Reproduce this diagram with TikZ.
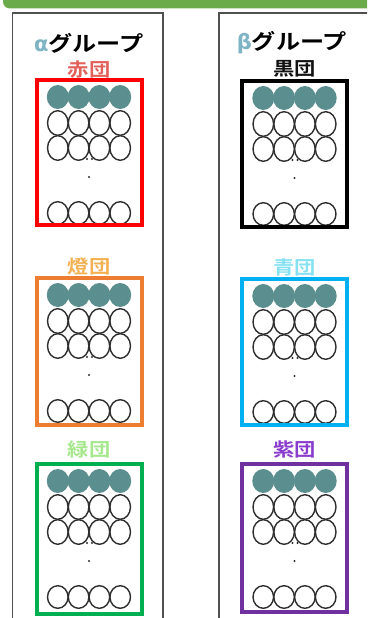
\documentclass[tikz,border=0pt]{standalone}
\usepackage{fontspec}
\newfontfamily\jpb{Noto Sans CJK JP Bold}[FakeStretch=1.15]
\newfontfamily\grb{DejaVu Sans}
\definecolor{barg}{HTML}{6CAB4A}
\definecolor{frameg}{HTML}{505050}
\definecolor{teal}{HTML}{5B8E8E}
\definecolor{ringc}{HTML}{2E2E2E}
\definecolor{greekc}{HTML}{7EB4C4}
\definecolor{cRed}{HTML}{FF0000}
\definecolor{cOrange}{HTML}{ED7D31}
\definecolor{cGreen}{HTML}{00B050}
\definecolor{cBlack}{HTML}{000000}
\definecolor{cCyan}{HTML}{00B0F0}
\definecolor{cPurple}{HTML}{7030A0}
\definecolor{lRed}{HTML}{E2605A}
\definecolor{lOrange}{HTML}{F4B050}
\definecolor{lGreen}{HTML}{A6E88C}
\definecolor{lBlack}{HTML}{111111}
\definecolor{lCyan}{HTML}{86E2F2}
\definecolor{lPurple}{HTML}{8A3CCC}
\tikzset{
  outerframe/.style={draw=frameg,line width=1.5pt},
  teambox/.style={draw=#1,line width=4pt,minimum width=105pt,inner sep=0pt},
  teamlabel/.style={text=#1,font=\jpb\fontsize{18.5}{18.5}\selectfont,inner sep=0pt},
  titlelabel/.style={font=\jpb\fontsize{21}{21}\selectfont,inner sep=0pt},
  ring/.style={draw=ringc,line width=1.4pt},
  filledc/.style={fill=teal},
  dotc/.style={fill=ringc}
}
% #1 name, #2 center x, #3 top y, #4 bottom y, #5 box colour, #6 label colour, #7 label, #8 label offset
\newcommand\teamblk[8]{%
  \node[teamlabel=#6] (#1-label) at (#2,#3-#8) {#7};
  \foreach \i in {-1.5,-0.5,0.5,1.5}{
    \fill[filledc] (#2+\i*20.8,#3+17) ellipse [x radius=11,y radius=12];
  }
  \foreach \i in {-1.5,-0.5,0.5,1.5}{
    \draw[ring] (#2+\i*20.8,#3+43) ellipse [x radius=10.3,y radius=12.3];
    \draw[ring] (#2+\i*20.8,#3+68) ellipse [x radius=10.3,y radius=12.3];
    \draw[ring] (#2+\i*20.8,#3+133) ellipse [x radius=10.3,y radius=11.3];
  }
  \fill[dotc] (#2-2,#3+79) circle [radius=1.1];
  \fill[dotc] (#2+3,#3+79) circle [radius=1.1];
  \fill[dotc] (#2,#3+97) circle [radius=1.1];
  \node[teambox=#5,minimum height={(#4-#3)*1pt}] (#1) at (#2,{(#3+#4)/2}) {};
}
\begin{document}
\begin{tikzpicture}[x=1pt,y=-1pt]
\useasboundingbox (0,0) rectangle (367,618);
\clip (0,0) rectangle (367,618);
\fill[white] (0,0) rectangle (367,618);
% top bar
\fill[barg,rounded corners=7pt] (3,-20) rectangle (390,8.5);
% group frames
\draw[outerframe] (12.5,640) -- (12.5,13) -- (163,13) -- (163,640);
\draw[outerframe] (219,640) -- (219,13) -- (390,13);
% titles
\node[titlelabel] (alpha-title) at (89,43) {{\grb\bfseries\color{greekc}α}グループ};
\node[titlelabel] (beta-title) at (292,43) {{\grb\bfseries\color{greekc}β}グループ};
% teams
\teamblk{red}{89}{80}{225}{cRed}{lRed}{赤団}{10}
\teamblk{orange}{89}{278}{425}{cOrange}{lOrange}{燈団}{12}
\teamblk{green}{89}{464}{614}{cGreen}{lGreen}{緑団}{15}
\teamblk{black}{294.5}{81}{227}{cBlack}{lBlack}{黒団}{12}
\teamblk{cyan}{294.5}{279}{425}{cCyan}{lCyan}{青団}{12}
\teamblk{purple}{294.5}{464}{612}{cPurple}{lPurple}{紫団}{15}
\end{tikzpicture}
\end{document}
